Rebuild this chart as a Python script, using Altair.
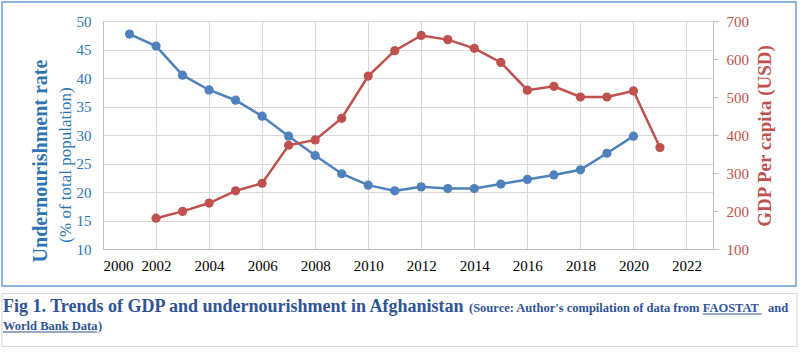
import altair as alt
import pandas as pd

# ---- data ----
years_under = [2001, 2002, 2003, 2004, 2005, 2006, 2007, 2008, 2009, 2010,
               2011, 2012, 2013, 2014, 2015, 2016, 2017, 2018, 2019, 2020]
undernourishment = [47.7, 45.6, 40.5, 37.9, 36.1, 33.3, 29.8, 26.4, 23.2, 21.2,
                    20.2, 20.9, 20.6, 20.6, 21.4, 22.2, 23.0, 23.9, 26.8, 29.8]

years_gdp = [2002, 2003, 2004, 2005, 2006, 2007, 2008, 2009, 2010, 2011,
             2012, 2013, 2014, 2015, 2016, 2017, 2018, 2019, 2020, 2021]
gdp_per_capita = [181, 199, 221, 253, 273, 373, 387, 444, 555, 622,
                  662, 651, 628, 591, 518, 528, 500, 500, 516, 367]

x_ticks = [2000, 2002, 2004, 2006, 2008, 2010, 2012, 2014, 2016, 2018, 2020, 2022]
left_ticks = [10, 15, 20, 25, 30, 35, 40, 45, 50]
right_ticks = [100, 200, 300, 400, 500, 600, 700]

left_title_1 = "Undernourishment rate"
left_title_2 = "(% of total population)"
right_title = "GDP Per capita (USD)"
caption_main = "Fig 1. Trends of GDP and undernourishment in Afghanistan"
caption_src_a = "(Source: Author's compilation of data from"
caption_src_b = "FAOSTAT"
caption_src_c = "and"
caption_src_d = "World Bank Data"
caption_src_e = ")"

BLUE = "#4F81BD"
RED = "#C0504D"
BLUE_TXT = "#2E75B6"
RED_TXT = "#C0504D"
CAP = "#2F5496"
FONT = "Liberation Serif"

df_u = pd.DataFrame({"year": years_under, "value": undernourishment})
df_g = pd.DataFrame({"year": years_gdp, "value": gdp_per_capita})

x_enc = alt.X(
    "year:Q",
    scale=alt.Scale(domain=[2000, 2023], nice=False, zero=False),
    axis=alt.Axis(values=x_ticks, format="d", grid=True, gridColor="#D9D9D9",
                  domainColor="#BFBFBF", ticks=False, labelColor="black",
                  labelFontSize=15, labelFont=FONT, labelPadding=9, title=None,
                  labelOverlap=False),
)

blue = alt.Chart(df_u).mark_line(
    color=BLUE, strokeWidth=2.5,
    point=alt.OverlayMarkDef(filled=True, size=85, color=BLUE, opacity=1),
).encode(
    x=x_enc,
    y=alt.Y("value:Q", scale=alt.Scale(domain=[10, 50], nice=False, zero=False),
            axis=alt.Axis(values=left_ticks, grid=True, gridColor="#D9D9D9",
                          domainColor="#BFBFBF", ticks=False, labelColor=BLUE_TXT,
                          labelFontSize=15, labelFont=FONT, labelPadding=12,
                          title=None)),
)

red = alt.Chart(df_g).mark_line(
    color=RED, strokeWidth=2.5,
    point=alt.OverlayMarkDef(filled=True, size=85, color=RED, opacity=1),
).encode(
    x=x_enc,
    y=alt.Y("value:Q", scale=alt.Scale(domain=[100, 700], nice=False, zero=False),
            axis=alt.Axis(orient="right", values=right_ticks, grid=False,
                          domainColor="#BFBFBF", ticks=True, tickColor="#BFBFBF",
                          tickSize=5, labelColor=RED_TXT, labelFontSize=15,
                          labelFont=FONT, labelPadding=8, title=None)),
)

one = alt.Data(values=[{"a": 1}])

frame = alt.Chart(one).mark_rect(filled=False, stroke="#8DB3E2", strokeWidth=2).encode(
    x=alt.value(-101), x2=alt.value(693), y=alt.value(-19), y2=alt.value(265))

capbox = alt.Chart(one).mark_rect(filled=False, stroke="#D9D9D9", strokeWidth=1).encode(
    x=alt.value(-101), x2=alt.value(694), y=alt.value(272.5), y2=alt.value(325.5))


def txt(s, x, y, size, color, bold=False, angle=0, align="left", baseline="alphabetic"):
    kw = dict(text=s, fontSize=size, font=FONT, color=color, align=align,
              baseline=baseline, fontWeight="bold" if bold else "normal")
    if angle:
        kw["angle"] = angle
    return alt.Chart(one).mark_text(**kw).encode(x=alt.value(x), y=alt.value(y))


def uline(x1, x2, y, color):
    return alt.Chart(one).mark_rule(color=color, strokeWidth=1).encode(
        x=alt.value(x1), x2=alt.value(x2), y=alt.value(y))


texts = [
    txt(left_title_1, -62.5, 140, 20, BLUE_TXT, bold=True, angle=270, align="center", baseline="middle"),
    txt(left_title_2, -37.5, 144, 17, BLUE_TXT, angle=270, align="center", baseline="middle"),
    txt(right_title, 662, 115, 19, RED_TXT, bold=True, angle=270, align="center", baseline="middle"),
    txt(caption_main, -100, 291, 18, CAP, bold=True),
    txt(caption_src_a, 366, 291, 12.5, CAP, bold=True),
    txt(caption_src_b, 599.7, 291, 12.5, CAP, bold=True),
    txt(caption_src_c, 665, 291, 12.5, CAP, bold=True),
    txt(caption_src_d, -100, 309.3, 12.5, CAP, bold=True),
    txt(caption_src_e, -5, 309.3, 12.5, CAP, bold=True),
    uline(599.7, 658.7, 293, CAP),
    uline(-100, -6, 311, CAP),
]

chart = alt.layer(frame, capbox, blue, red, *texts).resolve_scale(
    y="independent"
).properties(
    width=610, height=228,
    padding={"left": 103, "top": 21, "right": 87, "bottom": 103},
    autosize=alt.AutoSizeParams(type="none"),
    background="white",
).configure_view(stroke=None).configure_axis(
    labelFont=FONT
).configure_text(font=FONT)

chart.save("out.html", embed_options={"renderer": "svg", "actions": False})
